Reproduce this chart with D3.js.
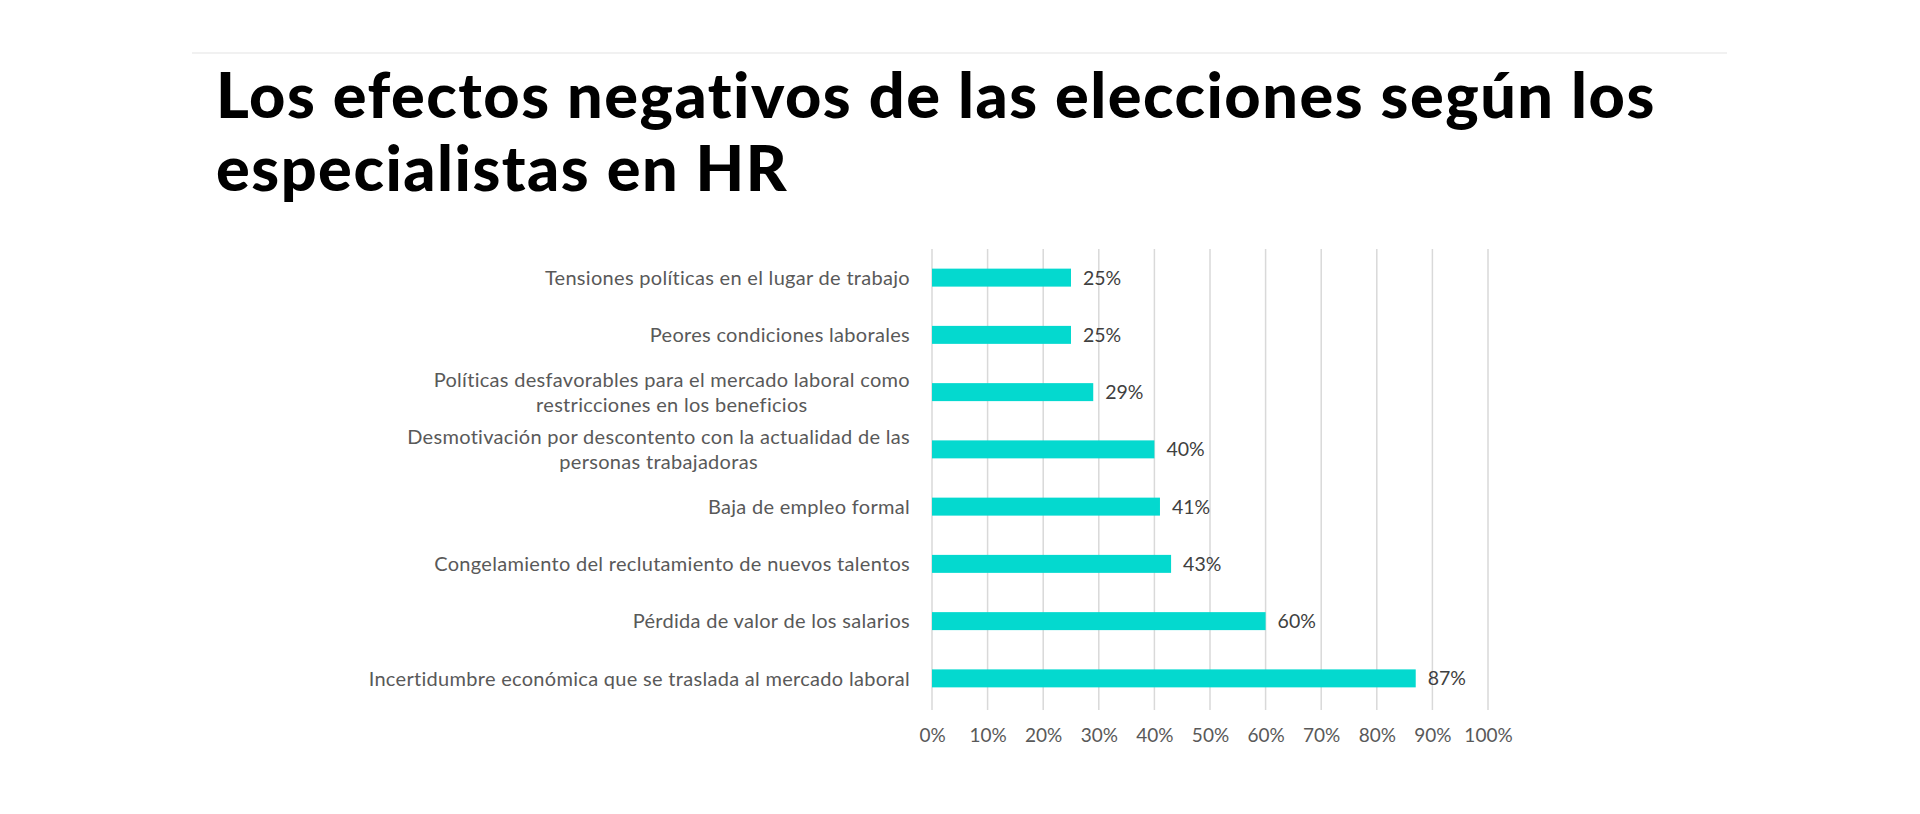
<!DOCTYPE html>
<html>
<head>
<meta charset="utf-8">
<script src="https://cdn.jsdelivr.net/npm/d3@7"></script>
<style>
  html, body { margin: 0; padding: 0; background: #ffffff; }
  svg { display: block; }
</style>
</head>
<body>
<svg id="chart" width="1920" height="814"></svg>
<script>
// ---- data ----
const titleLines = ["Los efectos negativos de las elecciones según los", "especialistas en HR"];
const categories = [
  ["Tensiones políticas en el lugar de trabajo"],
  ["Peores condiciones laborales"],
  ["Políticas desfavorables para el mercado laboral como", "restricciones en los beneficios"],
  ["Desmotivación por descontento con la actualidad de las", "personas trabajadoras"],
  ["Baja de empleo formal"],
  ["Congelamiento del reclutamiento de nuevos talentos"],
  ["Pérdida de valor de los salarios"],
  ["Incertidumbre económica que se traslada al mercado laboral"]
];
const values = [0.25, 0.25, 0.29, 0.40, 0.41, 0.43, 0.60, 0.87];
const tickValues = [0, 0.1, 0.2, 0.3, 0.4, 0.5, 0.6, 0.7, 0.8, 0.9, 1.0];

// ---- layout ----
const svg = d3.select("#chart");
const plot = { left: 932, right: 1488, top: 249, bottom: 707 };
const labelRight = 910;
const keys = categories.map(c => c.join(" "));

const x = d3.scaleLinear().domain([0, 1]).range([plot.left, plot.right]);
const y = d3.scaleBand().domain(keys).range([plot.top, plot.bottom])
  .paddingInner(0.686).paddingOuter(0.343);

// top faint rule
svg.append("line")
  .attr("x1", 192).attr("x2", 1727).attr("y1", 53).attr("y2", 53)
  .attr("stroke", "#f1f1f1").attr("stroke-width", 2);

// title
const title = svg.append("text")
  .attr("font-family", "Lato, sans-serif")
  .attr("font-weight", 900)
  .attr("font-size", 63)
  .attr("letter-spacing", 1.5)
  .attr("fill", "#000");
titleLines.forEach((t, i) => {
  title.append("tspan").attr("x", 216).attr("y", 118 + i * 73).text(t);
});

// gridlines
svg.append("g").selectAll("line").data(tickValues).join("line")
  .attr("x1", d => x(d)).attr("x2", d => x(d))
  .attr("y1", plot.top).attr("y2", plot.bottom + 3)
  .attr("stroke", "#d9d9d9").attr("stroke-width", 1.5);

// bars
svg.append("g").selectAll("rect").data(values).join("rect")
  .attr("x", x(0))
  .attr("y", (d, i) => y(keys[i]))
  .attr("width", d => x(d) - x(0))
  .attr("height", y.bandwidth())
  .attr("fill", "#04d9cf");

// value labels
svg.append("g").selectAll("text").data(values).join("text")
  .attr("x", d => x(d) + 12)
  .attr("y", (d, i) => y(keys[i]) + y.bandwidth() / 2)
  .attr("dy", "0.36em")
  .attr("font-family", "Lato, sans-serif")
  .attr("font-size", 19.5)
  .attr("fill", "#404040")
  .text(d => d3.format(".0%")(d));

// category labels (multi-line centered block, right aligned)
const lg = svg.append("g")
  .attr("font-family", "Lato, sans-serif")
  .attr("font-size", 20)
  .attr("letter-spacing", 0.3)
  .attr("fill", "#595959");
categories.forEach((lines, i) => {
  const cy = y(keys[i]) + y.bandwidth() / 2;
  const lh = 25;
  const temp = lines.map(l => {
    const t = lg.append("text").text(l);
    const w = t.node().getComputedTextLength();
    return { t, w };
  });
  const maxW = d3.max(temp, d => d.w);
  temp.forEach((d, j) => {
    d.t.attr("text-anchor", "middle")
      .attr("x", labelRight - maxW / 2)
      .attr("y", cy + (j - (lines.length - 1) / 2) * lh)
      .attr("dy", "0.36em");
  });
});

// x axis
const axis = d3.axisBottom(x).tickValues(tickValues).tickSize(0).tickPadding(0)
  .tickFormat(d3.format(".0%"));
const ax = svg.append("g").attr("transform", `translate(0,${plot.bottom})`).call(axis);
ax.select(".domain").remove();
ax.selectAll("text")
  .attr("font-family", "Lato, sans-serif")
  .attr("font-size", 19)
  .attr("fill", "#595959")
  .attr("y", 22)
  .attr("dy", "0.71em");
</script>
</body>
</html>
